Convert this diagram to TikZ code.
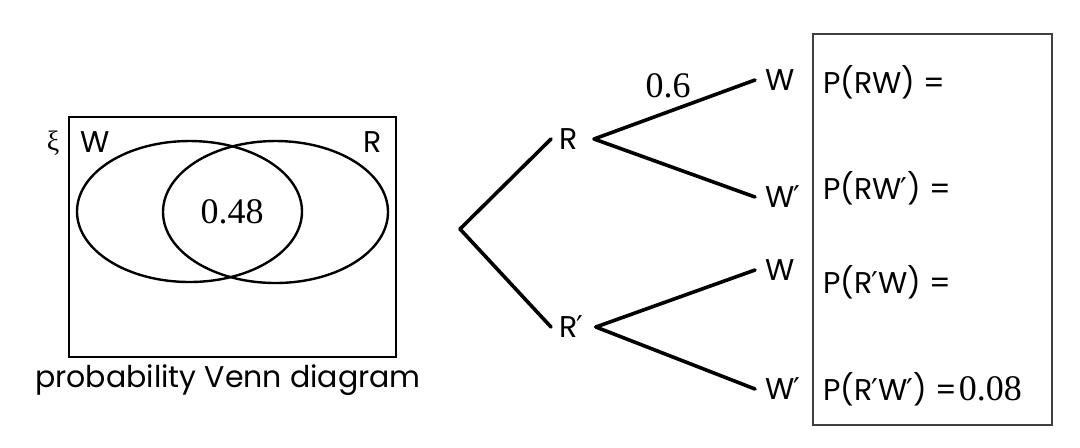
\documentclass[tikz,border=0pt]{standalone}
\usepackage{fontspec}
\usetikzlibrary{shapes.geometric}
\setmainfont{Poppins}
\newfontfamily\numfont{Liberation Serif}
\newfontfamily\primefont{DejaVu Sans}
\newcommand{\pr}{{\primefont\kern-0.5pt ′}}
\tikzset{
  lbl/.style={inner sep=0pt, font=\fontsize{15}{17}\selectfont},
  num/.style={inner sep=0pt, font=\numfont\fontsize{18}{20}\selectfont},
  branch/.style={line width=1.8pt, line cap=round},
  venn/.style={line width=1.2pt},
}
\begin{document}
\begin{tikzpicture}[x=0.5pt,y=-0.5pt]
\useasboundingbox (0,0) rectangle (1080,447);
% Venn diagram
\node[draw, venn, minimum width=163.5pt, minimum height=120pt, inner sep=0pt] (univ) at (232.5,237) {};
\node[draw, venn, ellipse, minimum width=112.5pt, minimum height=70.5pt, inner sep=0pt] (setW) at (189.5,211.5) {};
\node[draw, venn, ellipse, minimum width=112.5pt, minimum height=71pt, inner sep=0pt] (setR) at (275.5,212) {};
\node[num] (both) at (232,212) {0.48};
\node[num, font=\numfont\fontsize{14}{16}\selectfont] (xi) at (53,143) {ξ};
\node[lbl, anchor=west] (vW) at (80,142) {W};
\node[lbl] (vR) at (373,142) {R};
\node[lbl, anchor=north] (cap) at (228,364) {probability Venn diagram};
% tree
\coordinate (root) at (460,229);
\node[lbl, anchor=west] (R) at (559,139) {R};
\node[lbl, anchor=west] (Rp) at (559,327) {R\pr};
\node[lbl, anchor=west] (W1) at (765,80) {W};
\node[lbl, anchor=west] (W1p) at (765,197) {W\pr};
\node[lbl, anchor=west] (W2) at (765,270) {W};
\node[lbl, anchor=west] (W2p) at (765,389) {W\pr};
\draw[branch] (root) -- ([xshift=-4pt]R.west);
\draw[branch] (root) -- ([xshift=-4pt]Rp.west);
\draw[branch] ([xshift=8pt]R.east) -- ([xshift=-5pt]W1.west);
\draw[branch] ([xshift=8pt]R.east) -- ([xshift=-5pt]W1p.west);
\draw[branch] ([xshift=6pt]Rp.east) -- ([xshift=-5pt]W2.west);
\draw[branch] ([xshift=6pt]Rp.east) -- ([xshift=-5pt]W2p.west);
\node[num] (p6) at (668,86) {0.6};
% results box
\node[draw, line width=0.6pt, draw=black!75, minimum width=119.5pt, minimum height=195.5pt, inner sep=0pt] (box) at (932.5,229.5) {};
\node[lbl, anchor=west] (a1) at (823,82) {P(RW) =};
\node[lbl, anchor=west] (a2) at (823,188) {P(RW\pr) =};
\node[lbl, anchor=west] (a3) at (823,282) {P(R\pr W) =};
\node[lbl, anchor=west] (a4) at (823,389) {P(R\pr W\pr) =\kern1pt{\numfont\fontsize{18}{20}\selectfont 0.08}};
\end{tikzpicture}
\end{document}
